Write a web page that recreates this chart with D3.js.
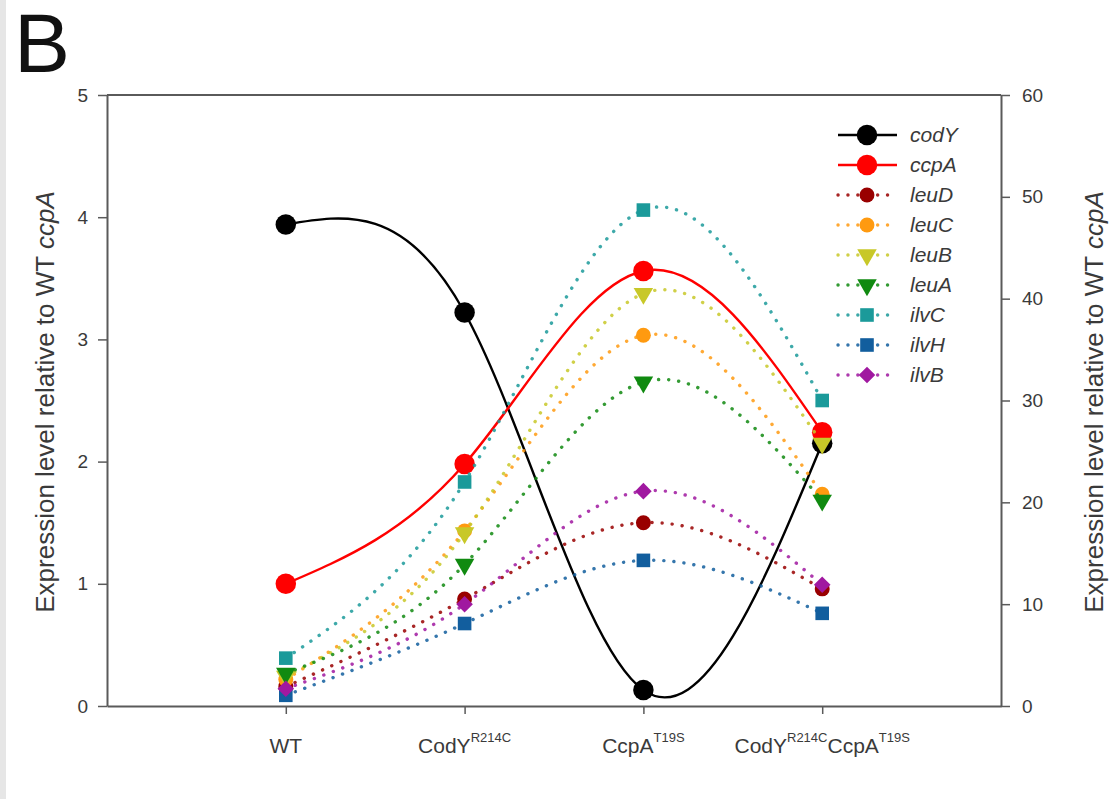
<!DOCTYPE html>
<html>
<head>
<meta charset="utf-8">
<script src="https://cdn.jsdelivr.net/npm/d3@7"></script>
<style>
  html, body { margin: 0; padding: 0; background: #fff; }
  svg { display: block; font-family: "Liberation Sans", Arial, sans-serif; }
</style>
</head>
<body>
<svg id="chart" width="1110" height="799"></svg>
<script>
// Strains on the x axis: [base, superscript] pairs per label
const strainLabels = [
  [["WT", ""]],
  [["CodY", "R214C"]],
  [["CcpA", "T19S"]],
  [["CodY", "R214C"], ["CcpA", "T19S"]]
];
const strainPos = [1, 2, 3, 4];

// Regulators, left axis (expression relative to WT ccpA)
const codY = [3.94, 3.22, 0.13, 2.15];
const ccpA = [1.00, 1.98, 3.56, 2.24];

// Leucine / isoleucine-valine genes, right axis
const leuD = [1.9, 10.5, 18.0, 11.5];
const leuC = [2.6, 17.2, 36.4, 20.8];
const leuB = [2.9, 17.0, 40.5, 25.8];
const leuA = [3.2, 13.9, 31.8, 20.2];
const ilvC = [4.7, 22.0, 48.7, 30.0];
const ilvH = [1.05, 8.1, 14.3, 9.1];
const ilvB = [1.7, 10.0, 21.1, 11.9];

const leftTicks = [0, 1, 2, 3, 4, 5];
const rightTicks = [0, 10, 20, 30, 40, 50, 60];

const series = [
  { name: "codY", values: codY, axis: "left",  color: "#000000", symbol: "circle",  size: 330, dotted: false },
  { name: "ccpA", values: ccpA, axis: "left",  color: "#ff0000", symbol: "circle",  size: 330, dotted: false },
  { name: "leuD", values: leuD, axis: "right", color: "#990000", symbol: "circle",  size: 175, dotted: true },
  { name: "leuC", values: leuC, axis: "right", color: "#ff9a10", symbol: "circle",  size: 175, dotted: true },
  { name: "leuB", values: leuB, axis: "right", color: "#c8c828", symbol: "triDown", size: 165, dotted: true },
  { name: "leuA", values: leuA, axis: "right", color: "#108a10", symbol: "triDown", size: 165, dotted: true },
  { name: "ilvC", values: ilvC, axis: "right", color: "#1b9a9a", symbol: "square",  size: 185, dotted: true },
  { name: "ilvH", values: ilvH, axis: "right", color: "#125e9e", symbol: "square",  size: 185, dotted: true },
  { name: "ilvB", values: ilvB, axis: "right", color: "#a018a0", symbol: "diamond", size: 175, dotted: true }
];

const svg = d3.select("#chart");
const W = 1110, H = 799;
const plot = { left: 107, right: 1001, top: 95, bottom: 706 };
const axisColor = "#5a5a5a";
const textColor = "#3a3a3a";

// faint strip along the left edge
svg.append("rect").attr("x", 0).attr("y", 0).attr("width", 6).attr("height", H).attr("fill", "#e6e6e6");

const x = d3.scaleLinear().domain([0, 5]).range([plot.left, plot.right]);
const yL = d3.scaleLinear().domain([0, 5]).range([plot.bottom, plot.top]);
const yR = d3.scaleLinear().domain([0, 60]).range([plot.bottom, plot.top]);

// panel letter
svg.append("text").attr("x", 14).attr("y", 72)
  .attr("font-size", 84).attr("fill", "#111").text("B");

// frame top edge
svg.append("line")
  .attr("x1", plot.left).attr("x2", plot.right)
  .attr("y1", plot.top).attr("y2", plot.top)
  .attr("stroke", axisColor).attr("stroke-width", 2);

function styleAxis(g) {
  g.selectAll(".domain").attr("stroke", axisColor).attr("stroke-width", 2);
  g.selectAll(".tick line").attr("stroke", axisColor).attr("stroke-width", 1.5);
  g.selectAll(".tick text").attr("fill", textColor).attr("font-size", 19)
    .attr("font-family", "Liberation Sans, Arial, sans-serif");
}

const gL = svg.append("g").attr("transform", `translate(${plot.left},0)`)
  .call(d3.axisLeft(yL).tickValues(leftTicks).tickSize(9).tickPadding(10).tickSizeOuter(0).tickFormat(d3.format("d")));
styleAxis(gL);

const gR = svg.append("g").attr("transform", `translate(${plot.right},0)`)
  .call(d3.axisRight(yR).tickValues(rightTicks).tickSize(9).tickPadding(12).tickSizeOuter(0).tickFormat(d3.format("d")));
styleAxis(gR);

const gX = svg.append("g").attr("transform", `translate(0,${plot.bottom})`)
  .call(d3.axisBottom(x).tickValues(strainPos).tickSize(8).tickSizeOuter(0).tickFormat(""));
styleAxis(gX);

// strain labels with superscripts
strainPos.forEach((p, i) => {
  const t = svg.append("text")
    .attr("x", x(p)).attr("y", 753)
    .attr("text-anchor", "middle")
    .attr("fill", textColor).attr("font-size", 21);
  let raised = false;
  strainLabels[i].forEach(([base, sup]) => {
    const b = t.append("tspan").attr("font-size", 21).text(base);
    if (raised) { b.attr("dy", 11); raised = false; }
    if (sup) {
      t.append("tspan").attr("font-size", 13).attr("dy", -11).text(sup);
      raised = true;
    }
  });
});

// axis titles
function axisTitle(cx, cy) {
  const t = svg.append("text")
    .attr("transform", `translate(${cx},${cy}) rotate(-90)`)
    .attr("text-anchor", "middle")
    .attr("fill", textColor).attr("font-size", 26);
  t.append("tspan").text("Expression level relative to WT ");
  t.append("tspan").attr("font-style", "italic").text("ccpA");
}
axisTitle(54, 402);
axisTitle(1103, 402);

const symbolTypes = {
  circle: d3.symbolCircle,
  square: d3.symbolSquare,
  diamond: d3.symbolDiamond2,
  triDown: d3.symbolTriangle
};

function markerPath(s) {
  return d3.symbol().type(symbolTypes[s.symbol]).size(s.size)();
}
function markerTransform(s, px, py) {
  return s.symbol === "triDown"
    ? `translate(${px},${py}) rotate(180)`
    : `translate(${px},${py})`;
}

const lineGen = yScale => d3.line()
  .x((d, i) => x(strainPos[i]))
  .y(d => yScale(d))
  .curve(d3.curveNatural);

series.forEach(s => {
  const yScale = s.axis === "left" ? yL : yR;
  const g = svg.append("g");
  g.append("path")
    .attr("d", lineGen(yScale)(s.values))
    .attr("fill", "none")
    .attr("stroke", s.color)
    .attr("stroke-width", s.dotted ? 3.4 : 2.4)
    .attr("stroke-linecap", s.dotted ? "round" : "butt")
    .attr("stroke-dasharray", s.dotted ? "0.1 10" : null)
    .attr("opacity", s.dotted ? 0.85 : 1);
  g.selectAll("path.mk").data(s.values).join("path")
    .attr("class", "mk")
    .attr("d", markerPath(s))
    .attr("transform", (d, i) => markerTransform(s, x(strainPos[i]), yScale(d)))
    .attr("fill", s.color);
});

// legend
const lg = svg.append("g");
const legX0 = 838, legX1 = 897, legMark = 867, legText = 910;
series.forEach((s, i) => {
  const ly = 135 + i * 30;
  lg.append("line")
    .attr("x1", legX0).attr("x2", legX1).attr("y1", ly).attr("y2", ly)
    .attr("stroke", s.color)
    .attr("stroke-width", s.dotted ? 3.4 : 2.4)
    .attr("stroke-linecap", s.dotted ? "round" : "butt")
    .attr("stroke-dasharray", s.dotted ? "0.1 9.8" : null)
    .attr("opacity", s.dotted ? 0.85 : 1);
  lg.append("path")
    .attr("d", markerPath(s))
    .attr("transform", markerTransform(s, legMark, ly))
    .attr("fill", s.color);
  lg.append("text")
    .attr("x", legText).attr("y", ly + 7)
    .attr("font-size", 21).attr("font-style", "italic")
    .attr("fill", textColor).text(s.name);
});
</script>
</body>
</html>
